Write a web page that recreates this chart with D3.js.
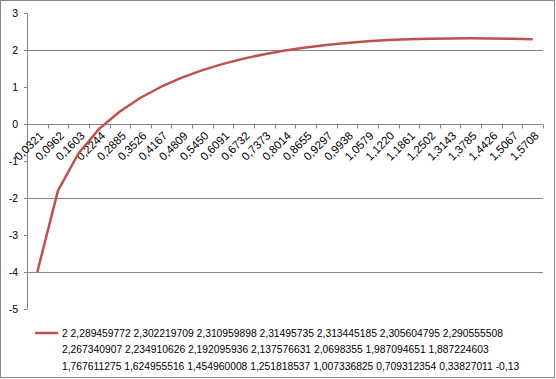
<!DOCTYPE html>
<html><head><meta charset="utf-8">
<script src="https://cdn.jsdelivr.net/npm/d3@7"></script>
<style>body{margin:0;background:#fff}svg{display:block}</style>
</head><body>
<svg id="c" width="556" height="379"></svg>
<script>
const categories = ["0,0321","0,0962","0,1603","0,2244","0,2885","0,3526","0,4167","0,4809","0,5450","0,6091","0,6732","0,7373","0,8014","0,8655","0,9297","0,9938","1,0579","1,1220","1,1861","1,2502","1,3143","1,3785","1,4426","1,5067","1,5708"];
const values = [-4.0,-1.80,-0.79,-0.13,0.33827011,0.709312354,1.007336825,1.251818537,1.454960008,1.624955516,1.767611275,1.887224603,1.987094651,2.0698355,2.137576631,2.192095936,2.234910626,2.267340907,2.290555508,2.305604795,2.313445185,2.31495735,2.310959898,2.302219709,2.289459772];
const yTicks = [3,2,1,0,-1,-2,-3,-4,-5];
const yTickLabels = ["3","2","1","0","-1","-2","-3","-4","-5"];
const gridValues = [2,-2,-4];
const legendLines = [
  "2 2,289459772 2,302219709 2,310959898 2,31495735 2,313445185 2,305604795 2,290555508",
  "2,267340907 2,234910626 2,192095936 2,137576631 2,0698355 1,987094651 1,887224603",
  "1,767611275 1,624955516 1,454960008 1,251818537 1,007336825 0,709312354 0,33827011 -0,13"
];

const svg = d3.select("#c");
const axisColor = "#868686";
const lineColor = "#C0504D";
const font = "'Liberation Sans', Arial, sans-serif";

// chart border
svg.append("rect").attr("x",0.5).attr("y",0.5).attr("width",554).attr("height",377)
  .attr("fill","#fff").attr("stroke",axisColor).attr("stroke-width",1);

const x = d3.scaleBand().domain(categories).range([27,543]).padding(0);
const y = d3.scaleLinear().domain([-5,3]).range([309,13]);
const cx = c => x(c) + x.bandwidth()/2;

// gridlines
svg.append("g").selectAll("line").data(gridValues).join("line")
  .attr("x1",27).attr("x2",543)
  .attr("y1",d=>Math.round(y(d))+0.5).attr("y2",d=>Math.round(y(d))+0.5)
  .attr("stroke",axisColor).attr("stroke-width",1);

// y axis
const yAxisG = svg.append("g");
yAxisG.append("line").attr("x1",27.5).attr("x2",27.5).attr("y1",y(3)).attr("y2",y(-5))
  .attr("stroke",axisColor);
yAxisG.selectAll("line.t").data(yTicks).join("line").attr("class","t")
  .attr("x1",24).attr("x2",27.5)
  .attr("y1",d=>Math.round(y(d))+0.5).attr("y2",d=>Math.round(y(d))+0.5)
  .attr("stroke",axisColor);
yAxisG.selectAll("text").data(yTicks).join("text")
  .attr("x",18).attr("y",d=>y(d)).attr("dy","0.35em")
  .attr("text-anchor","end").attr("font-family",font).attr("font-size","10.5px").attr("fill","#000")
  .text((d,i)=>yTickLabels[i]);

// x axis at 0
const y0 = Math.round(y(0))+0.5;
const xAxisG = svg.append("g");
xAxisG.append("line").attr("x1",27).attr("x2",543).attr("y1",y0).attr("y2",y0).attr("stroke",axisColor);
const bounds = categories.map(c=>x(c)).concat([x.range()[1]]);
xAxisG.selectAll("line.t").data(bounds).join("line").attr("class","t")
  .attr("x1",d=>Math.round(d)+0.5).attr("x2",d=>Math.round(d)+0.5)
  .attr("y1",y0).attr("y2",y0+4).attr("stroke",axisColor);
xAxisG.selectAll("text").data(categories).join("text")
  .attr("transform",d=>`translate(${cx(d)+4},${y0+9}) rotate(-45)`)
  .attr("dy","0.35em").attr("text-anchor","end")
  .attr("font-family",font).attr("font-size","11.5px").attr("fill","#000")
  .text(d=>d);

// series line
const line = d3.line().x((d,i)=>cx(categories[i])).y(d=>y(d));
svg.append("path").datum(values).attr("d",line).attr("fill","none")
  .attr("stroke",lineColor).attr("stroke-width",2.5).attr("stroke-linejoin","round");

// legend
svg.append("line").attr("x1",35).attr("x2",58).attr("y1",333).attr("y2",333)
  .attr("stroke",lineColor).attr("stroke-width",2.5);
svg.append("g").selectAll("text").data(legendLines).join("text")
  .attr("x",62).attr("y",(d,i)=>333 + i*16.5).attr("dy","0.35em")
  .attr("font-family",font).attr("font-size","10.3px").attr("fill","#000")
  .text(d=>d);
</script>
</body></html>
